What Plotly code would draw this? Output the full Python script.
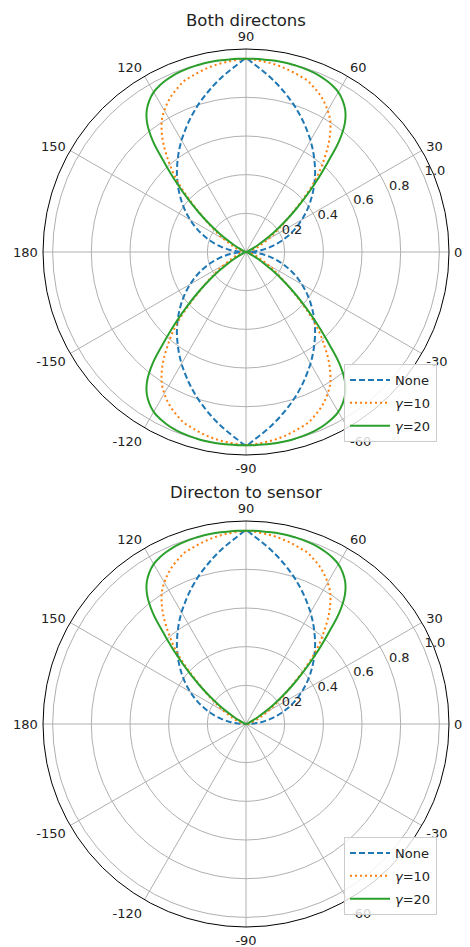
import plotly.graph_objects as go

# ---- data, upper-right quadrant 0..90 deg ----
angles_half = [0, 2.5, 5, 7.5, 10, 12.5, 15, 17.5, 20, 22.5, 25, 27.5, 30, 32.5, 35, 37.5,
               40, 42.5, 45, 47.5, 50, 52.5, 55, 57.5, 60, 62.5, 65, 67.5, 70, 72.5, 75,
               77.5, 80, 82.5, 85, 87.5, 90]
none_half = [0.0, 0.028, 0.056, 0.083, 0.111, 0.139, 0.167, 0.194, 0.222, 0.25, 0.278,
             0.306, 0.333, 0.361, 0.389, 0.417, 0.444, 0.472, 0.5, 0.528, 0.556, 0.583,
             0.611, 0.639, 0.667, 0.694, 0.722, 0.75, 0.778, 0.806, 0.833, 0.861, 0.889,
             0.917, 0.944, 0.972, 1.0]
g10_half = [0.007, 0.009, 0.011, 0.014, 0.018, 0.023, 0.03, 0.04, 0.05, 0.065, 0.08, 0.1,
            0.13, 0.165, 0.2, 0.25, 0.31, 0.39, 0.48, 0.56, 0.63, 0.7, 0.76, 0.81, 0.845,
            0.875, 0.9, 0.92, 0.94, 0.95, 0.96, 0.97, 0.978, 0.985, 0.99, 0.995, 1.0]
g20_half = [0.0, 0.0, 0.0, 0.001, 0.001, 0.002, 0.003, 0.005, 0.01, 0.015, 0.025, 0.04,
            0.07, 0.11, 0.17, 0.24, 0.32, 0.41, 0.51, 0.62, 0.75, 0.84, 0.895, 0.93, 0.955,
            0.97, 0.98, 0.988, 0.993, 0.996, 0.998, 1.0, 1.0, 1.0, 1.0, 1.0, 1.0]

series_names = ["None", "<i>γ</i>=10", "<i>γ</i>=20"]
series_half = [none_half, g10_half, g20_half]
colors = ["#1f77b4", "#ff7f0e", "#2ca02c"]
dashes = ["6px,3px", "2px,3px", "solid"]

tick_vals = [0, 30, 60, 90, 120, 150, 180, 210, 240, 270, 300, 330]
tick_text = ["0", "30", "60", "90", "120", "150", "180", "-150", "-120", "-90", "-60", "-30"]
radial_ticks = [0.2, 0.4, 0.6, 0.8, 1.0]
radial_text = ["0.2", "0.4", "0.6", "0.8", "1.0"]
radial_label_angle = 22.5
titles = ["Both directons", "Directon to sensor"]


def upper(vals):
    th = angles_half + [180 - a for a in reversed(angles_half[:-1])]
    r = vals + list(reversed(vals[:-1]))
    return th, r


def full(vals):
    th, r = upper(vals)
    th2 = th + [360 - a for a in reversed(th[:-1])]
    r2 = r + list(reversed(r[:-1]))
    return th2, r2


fig = go.Figure()
for sub, (polar, legend, maker) in enumerate([("polar", "legend", full), ("polar2", "legend2", upper)]):
    for name, vals, col, dash in zip(series_names, series_half, colors, dashes):
        th, r = maker(vals)
        fig.add_trace(go.Scatterpolar(
            theta=th, r=r, mode="lines", name=name,
            line=dict(color=col, width=2, dash=dash, shape="spline", smoothing=1),
            subplot=polar, legend=legend, legendgroup=name + str(sub),
        ))
    # radial tick labels, matplotlib style (horizontal, above-right of each ring)
    fig.add_trace(go.Scatterpolar(
        r=radial_ticks, theta=[radial_label_angle] * len(radial_ticks),
        mode="text", text=radial_text, textposition="top right",
        textfont=dict(size=13, color="#222"), showlegend=False, hoverinfo="skip",
        cliponaxis=False, subplot=polar,
    ))

W, H = 470, 947
RD = 203  # domain half-size (plotly draws the circle slightly smaller)
centers = [(246, 252), (246, 724)]


def dom(cx, cy):
    return dict(x=[(cx - RD) / W, (cx + RD) / W], y=[1 - (cy + RD) / H, 1 - (cy - RD) / H])


polar_common = dict(
    bgcolor="white",
    angularaxis=dict(
        direction="counterclockwise", rotation=0,
        tickmode="array", tickvals=tick_vals, ticktext=tick_text,
        showline=True, linecolor="black", linewidth=1,
        gridcolor="#b0b0b0", gridwidth=0.8,
        ticks="outside", ticklen=2, tickcolor="rgba(0,0,0,0)",
        tickfont=dict(size=13, color="#222"),
    ),
    radialaxis=dict(
        range=[0, 1.05], tickmode="array", tickvals=radial_ticks, ticktext=radial_text,
        angle=radial_label_angle, showticklabels=False,
        showline=False, gridcolor="#b0b0b0", gridwidth=0.8, ticks="",
    ),
)

legend_common = dict(xanchor="right", yanchor="bottom",
                     bgcolor="rgba(255,255,255,0.8)", bordercolor="#cccccc", borderwidth=1,
                     font=dict(size=13), tracegroupgap=3, traceorder="grouped", itemwidth=40)

fig.update_layout(
    width=W, height=H, margin=dict(l=0, r=0, t=0, b=0),
    paper_bgcolor="white",
    font=dict(family="DejaVu Sans", color="#222"),
    polar=dict(domain=dom(*centers[0]), **polar_common),
    polar2=dict(domain=dom(*centers[1]), **polar_common),
    legend=dict(x=437 / W, y=1 - 442 / H, **legend_common),
    legend2=dict(x=437 / W, y=1 - 915 / H, **legend_common),
    showlegend=True,
)

for title, ty in zip(titles, [20, 492]):
    fig.add_annotation(text=title, x=246 / W, y=1 - ty / H, xref="paper", yref="paper",
                       showarrow=False, font=dict(size=16.5, color="#222"),
                       xanchor="center", yanchor="middle")

fig.write_html("out.html", config={"displayModeBar": False},
               post_script="document.body.style.margin='0';")
